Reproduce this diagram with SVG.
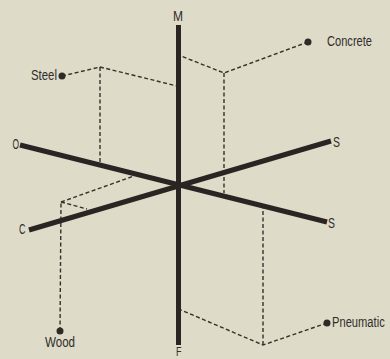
<svg xmlns="http://www.w3.org/2000/svg" width="390" height="359" viewBox="0 0 390 359">
  <style>
    .axis { stroke: #2a2522; stroke-width: 5; stroke-linecap: butt; fill: none; }
    .dash { stroke: #34312b; stroke-width: 1.4; stroke-dasharray: 4 2.5; fill: none; }
    .dot { fill: #2e2b27; }
    text { font-family: "Liberation Sans", Arial, sans-serif; font-size: 15.5px; fill: #2f2d2a; }
    .ax { font-size: 15px; }
  </style>
  <rect x="0" y="0" width="390" height="359" fill="#dedbc9"/>

  <g id="connectors">
    <!-- Steel -->
    <polyline class="dash" points="62,76 100,67 177,86"/>
    <line class="dash" x1="100" y1="67" x2="100" y2="164"/>
    <!-- Concrete -->
    <polyline class="dash" points="308,42 224,73 181,56"/>
    <line class="dash" x1="224" y1="73" x2="224" y2="193"/>
    <!-- Wood -->
    <line class="dash" x1="60" y1="331" x2="61" y2="202"/>
    <line class="dash" x1="61" y1="202" x2="134" y2="176"/>
    <line class="dash" x1="61" y1="202" x2="87" y2="209"/>
    <!-- Pneumatic -->
    <polyline class="dash" points="327,323 263,345 181,310"/>
    <line class="dash" x1="263" y1="345" x2="263" y2="208"/>
  </g>

  <g id="axis-MF">
    <line class="axis" x1="178.5" y1="25" x2="178.5" y2="345"/>
    <text class="ax" x="178" y="21" text-anchor="middle" textLength="10" lengthAdjust="spacingAndGlyphs">M</text>
    <text x="176" y="355.5" style="font-size:13px" textLength="5.5" lengthAdjust="spacingAndGlyphs">F</text>
  </g>
  <g id="axis-OS">
    <line class="axis" x1="20" y1="145" x2="327" y2="222"/>
    <text class="ax" x="12.5" y="149" textLength="6.5" lengthAdjust="spacingAndGlyphs">O</text>
    <text class="ax" x="328" y="228" textLength="7" lengthAdjust="spacingAndGlyphs">S</text>
  </g>
  <g id="axis-CS">
    <line class="axis" x1="29" y1="230" x2="331" y2="141"/>
    <text class="ax" x="19" y="234" textLength="6.5" lengthAdjust="spacingAndGlyphs">C</text>
    <text class="ax" x="333" y="147" textLength="7" lengthAdjust="spacingAndGlyphs">S</text>
  </g>

  <g id="steel">
    <circle class="dot" cx="62" cy="76" r="3.5"/>
    <text x="31" y="80" textLength="26" lengthAdjust="spacingAndGlyphs">Steel</text>
  </g>
  <g id="concrete">
    <circle class="dot" cx="308" cy="42" r="3.5"/>
    <text x="327" y="46" textLength="45" lengthAdjust="spacingAndGlyphs">Concrete</text>
  </g>
  <g id="wood">
    <circle class="dot" cx="60" cy="331" r="3.5"/>
    <text x="45" y="347" textLength="30" lengthAdjust="spacingAndGlyphs">Wood</text>
  </g>
  <g id="pneumatic">
    <circle class="dot" cx="327" cy="323" r="3.5"/>
    <text transform="translate(332 327) scale(0.72 1)" x="0" y="0">Pneumatic</text>
  </g>
</svg>
